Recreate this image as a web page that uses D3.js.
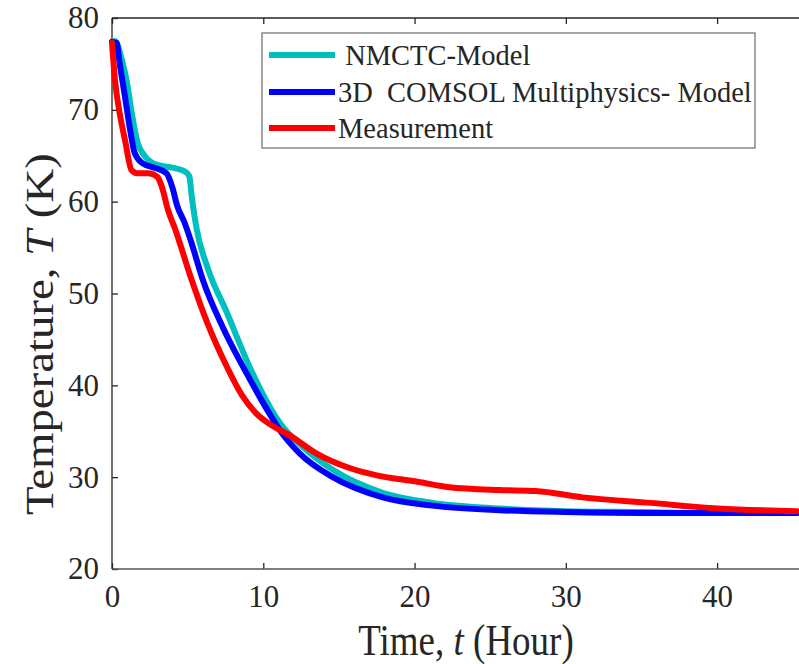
<!DOCTYPE html>
<html lang="en">
<meta charset="UTF-8">
<title>Temperature vs time</title>
<style>
  body { margin: 0; background: #fff; }
  svg text { font-family: "Liberation Serif", "Times New Roman", serif; fill: #262626; }
  .tick text { font-size: 31px; }
  .tick line { stroke: #262626; stroke-width: 1.3; }
  .series { fill: none; stroke-width: 6; stroke-linejoin: round; stroke-linecap: round; }
</style>
<script src="https://d3js.org/d3.v7.min.js"></script>
<body>
<svg id="chart" width="799" height="664"></svg>
<script>
// hours / kelvin
var nmctcT = [0, 0.2, 0.66, 1.0, 1.3, 1.65, 2.2, 3.0, 4.0, 4.8, 5.1, 5.3, 5.6, 6.3, 7.6, 9.1, 9.8, 11.1, 12.6, 14.6, 17.9, 21.2, 25.6, 30, 35, 40, 45.3];
var nmctcV = [77.4, 77.5, 75.4, 72.9, 69.7, 66.7, 64.9, 64.0, 63.7, 63.3, 62.8, 60.2, 57.0, 52.9, 47.9, 42.0, 39.6, 35.9, 33.3, 30.8, 28.3, 27.2, 26.6, 26.3, 26.2, 26.1, 26.1];

var comsolT = [0, 0.3, 0.5, 0.86, 1.2, 1.5, 2.0, 2.8, 3.6, 4.0, 4.3, 4.8, 5.2, 6.0, 7.3, 8.9, 10.6, 11.1, 12.4, 14.6, 17.9, 21.2, 25.6, 30, 35, 40, 45.3];
var comsolV = [77.4, 77.3, 75.1, 71.4, 67.8, 65.3, 64.2, 63.7, 63.1, 61.5, 59.6, 57.7, 55.8, 51.5, 46.4, 41.3, 36.4, 35.1, 32.6, 30.0, 27.8, 26.9, 26.4, 26.2, 26.1, 26.1, 26.1];

var measT = [0, 0.2, 0.5, 0.86, 1.3, 1.65, 2.4, 3.0, 3.3, 3.7, 4.2, 5.2, 6.3, 7.6, 8.6, 9.5, 10.4, 11.8, 13.5, 15.7, 17.5, 20.2, 22.3, 25.6, 28, 31.1, 35.6, 40.0, 45.3];
var measV = [77.3, 73.2, 69.7, 66.7, 63.4, 63.1, 63.1, 62.7, 61.6, 59.1, 56.9, 51.8, 46.8, 42.0, 38.9, 37.0, 35.8, 34.5, 32.6, 31.0, 30.2, 29.5, 28.9, 28.6, 28.5, 27.8, 27.2, 26.6, 26.3];

var seriesNames = [" NMCTC-Model", "3D  COMSOL Multiphysics- Model", "Measurement"];
var seriesColors = ["#00bfbf", "#0000ff", "#ff0000"];

var xTicks = [0, 10, 20, 30, 40];
var yTicks = [20, 30, 40, 50, 60, 70, 80];

var margin = {left: 112, top: 18, right: 0, bottom: 95};
var width = 799 - margin.left + 24;   // axes run past the cropped right edge
var height = 664 - margin.top - margin.bottom;

var svg = d3.select("#chart");
var g = svg.append("g").attr("transform", `translate(${margin.left},${margin.top})`);

var x = d3.scaleLinear().domain([0, 47]).range([0, width]);
var y = d3.scaleLinear().domain([20, 80]).range([height, 0]);

// axes, ticks inward
g.append("g")
  .attr("transform", `translate(0,${height})`)
  .call(d3.axisBottom(x).tickValues(xTicks).tickSize(-6).tickPadding(16).tickFormat(d3.format("d")));
g.append("g")
  .call(d3.axisLeft(y).tickValues(yTicks).tickSize(-6).tickPadding(13).tickFormat(d3.format("d")));
g.append("g")
  .call(d3.axisTop(x).tickValues(xTicks).tickSize(-6).tickFormat(""));
g.selectAll(".domain").remove();
g.append("line").attr("x1", 0).attr("x2", width).attr("y1", 0).attr("y2", 0).attr("stroke", "#262626").attr("stroke-width", 1.3);
g.append("line").attr("x1", 0).attr("x2", width).attr("y1", height).attr("y2", height).attr("stroke", "#555").attr("stroke-width", 1.3);
g.append("line").attr("x1", 0).attr("x2", 0).attr("y1", 0).attr("y2", height).attr("stroke", "#262626").attr("stroke-width", 1.3);

var line = d3.line().x(d => x(d[0])).y(d => y(d[1])).curve(d3.curveMonotoneX);

var data = [
  d3.zip(nmctcT, nmctcV),
  d3.zip(comsolT, comsolV),
  d3.zip(measT, measV)
];
data.forEach((d, i) => {
  g.append("path").datum(d).attr("class", "series")
    .attr("stroke", seriesColors[i]).attr("d", line);
});

// axis labels (the source image is a bit stretched vertically)
svg.append("text")
  .attr("transform", "translate(466,655) scale(1,1.18)")
  .attr("text-anchor", "middle").style("font-size", "37px")
  .html('Time, <tspan font-style="italic">t</tspan> (Hour)');
svg.append("text")
  .attr("transform", "translate(53,515) rotate(-90) scale(1.17,1)")
  .attr("text-anchor", "start").style("font-size", "40px")
  .html('Temperature, <tspan font-style="italic">T</tspan> (K)');

// legend
var lg = svg.append("g");
lg.append("rect").attr("x", 262).attr("y", 33).attr("width", 493).attr("height", 115)
  .attr("fill", "#fff").attr("stroke", "#777").attr("stroke-width", 1.3);
var rowY = [55, 92, 128];
seriesNames.forEach((name, i) => {
  lg.append("line").attr("x1", 269).attr("x2", 335).attr("y1", rowY[i]).attr("y2", rowY[i])
    .attr("stroke", seriesColors[i]).attr("stroke-width", 6);
  lg.append("text").attr("x", 338).attr("y", rowY[i] + 10)
    .style("font-size", "28.5px").style("white-space", "pre")
    .text(name);
});
</script>
</body>
</html>
